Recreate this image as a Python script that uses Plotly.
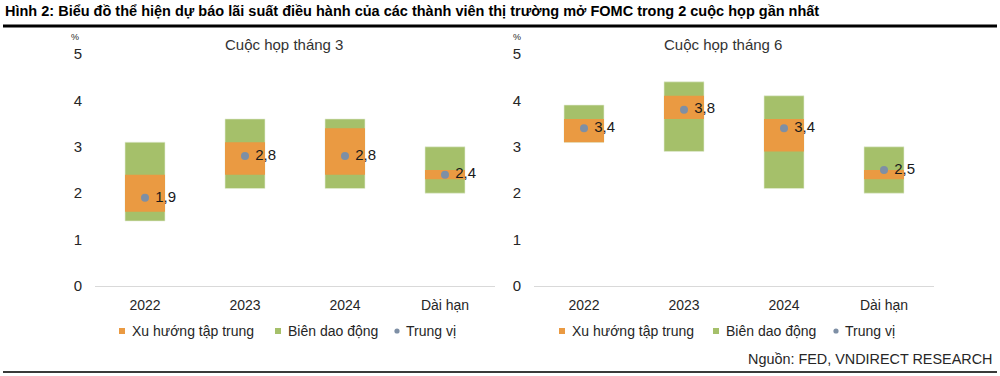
import plotly.graph_objects as go

# ---------------- data ----------------
categories = ["2022", "2023", "2024", "Dài hạn"]

mar_range_low = [1.4, 2.1, 2.1, 2.0]
mar_range_high = [3.1, 3.6, 3.6, 3.0]
mar_central_low = [1.6, 2.4, 2.4, 2.3]
mar_central_high = [2.4, 3.1, 3.4, 2.5]
mar_median = [1.9, 2.8, 2.8, 2.4]

jun_range_low = [3.1, 2.9, 2.1, 2.0]
jun_range_high = [3.9, 4.4, 4.1, 3.0]
jun_central_low = [3.1, 3.6, 2.9, 2.3]
jun_central_high = [3.6, 4.1, 3.6, 2.5]
jun_median = [3.4, 3.8, 3.4, 2.5]

panel_titles = ["Cuộc họp tháng 3", "Cuộc họp tháng 6"]
series_names = ["Xu hướng tập trung", "Biên dao động", "Trung vị"]
y_ticks = [0, 1, 2, 3, 4, 5]

# ---------------- style ----------------
W, H = 1000, 376
FONT = "Liberation Sans, Arial, sans-serif"
GREEN = "#A5C06A"
ORANGE = "#EA9A42"
DOT = "#7E8FA5"
TXT = "#262626"


def px(x):
    return x / W


def py(y):
    return 1 - y / H


def fmt(v):
    return "\u00a0" + f"{v:.1f}".replace(".", ",")


fig = go.Figure()

panels = [
    (mar_range_low, mar_range_high, mar_central_low, mar_central_high, mar_median),
    (jun_range_low, jun_range_high, jun_central_low, jun_central_high, jun_median),
]
x_domains = [(95, 495), (534, 934)]

for i, (rl, rh, cl, ch, md) in enumerate(panels):
    xa = "x" if i == 0 else "x2"
    ya = "y" if i == 0 else "y2"
    fig.add_trace(go.Bar(
        x=categories, y=[h - l for l, h in zip(rl, rh)], base=rl,
        width=0.4, marker=dict(color=GREEN, line=dict(color="#E6EEDA", width=0.6)),
        name=series_names[1], showlegend=False, xaxis=xa, yaxis=ya,
        hoverinfo="skip"))
    fig.add_trace(go.Bar(
        x=categories, y=[h - l for l, h in zip(cl, ch)], base=cl,
        width=0.4, marker=dict(color=ORANGE, line=dict(width=0)),
        name=series_names[0], showlegend=False, xaxis=xa, yaxis=ya,
        hoverinfo="skip"))
    fig.add_trace(go.Scatter(
        x=categories, y=md, mode="markers+text",
        marker=dict(color=DOT, size=8),
        text=[fmt(v) for v in md], textposition="middle right",
        textfont=dict(family=FONT, size=15, color="#1a1a1a"),
        name=series_names[2], showlegend=False, xaxis=xa, yaxis=ya,
        cliponaxis=False))

axis_common_x = dict(
    type="category", range=[-0.5, 3.5], showline=True, linecolor="#D9D9D9",
    linewidth=1, showgrid=False, zeroline=False, ticks="",
    tickfont=dict(family=FONT, size=14, color=TXT), ticklabelstandoff=6,
    fixedrange=True)
axis_common_y = dict(
    range=[0, 5], tickvals=y_ticks, showline=False, showgrid=False,
    zeroline=False, ticks="", tickfont=dict(family=FONT, size=15, color=TXT),
    ticklabelstandoff=12, domain=[py(286), py(54)], fixedrange=True)

fig.update_layout(
    autosize=True,
    margin=dict(l=0, r=0, t=0, b=0, autoexpand=False),
    paper_bgcolor="white", plot_bgcolor="white",
    barmode="overlay",
    font=dict(family=FONT, color=TXT),
    xaxis=dict(domain=[px(x_domains[0][0]), px(x_domains[0][1])], anchor="y", **axis_common_x),
    yaxis=dict(anchor="x", **axis_common_y),
    xaxis2=dict(domain=[px(x_domains[1][0]), px(x_domains[1][1])], anchor="y2", **axis_common_x),
    yaxis2=dict(anchor="x2", **axis_common_y),
    showlegend=False,
)

annotations = [
    dict(text="<b>Hình 2: Biểu đồ thể hiện dự báo lãi suất điều hành của các thành viên thị trường mở FOMC trong 2 cuộc họp gần nhất</b>",
         x=px(3), y=py(11), xanchor="left", yanchor="middle",
         font=dict(family=FONT, size=14.5, color="#000000")),
    dict(text=panel_titles[0], x=px(284), y=py(45), xanchor="center", yanchor="middle",
         font=dict(family=FONT, size=15, color="#333333")),
    dict(text=panel_titles[1], x=px(723), y=py(45), xanchor="center", yanchor="middle",
         font=dict(family=FONT, size=15, color="#333333")),
    dict(text="%", x=px(75), y=py(37), xanchor="center", yanchor="middle",
         font=dict(family=FONT, size=9, color=TXT)),
    dict(text="%", x=px(517), y=py(37), xanchor="center", yanchor="middle",
         font=dict(family=FONT, size=9, color=TXT)),
    dict(text="Nguồn: FED, VNDIRECT RESEARCH", x=px(994), y=py(359), xanchor="right",
         yanchor="middle", font=dict(family=FONT, size=14.4, color=TXT)),
]

shapes = [
    dict(type="line", x0=px(3), x1=px(997), y0=py(26), y1=py(26),
         line=dict(color="#000000", width=3)),
    dict(type="line", x0=px(3), x1=px(997), y0=py(372), y1=py(372),
         line=dict(color="#3a3a3a", width=2)),
]

# legend keys (one legend per panel)
legend_rows = [
    [(122, 130, ORANGE, "rect"), (278, 286, GREEN, "rect"), (397, 404, DOT, "circle")],
    [(562, 570, ORANGE, "rect"), (716, 724, GREEN, "rect"), (836, 843, DOT, "circle")],
]
LEG_Y = 331
for row in legend_rows:
    for (sx, tx, col, kind), name in zip(row, series_names):
        r = 3 if kind == "rect" else 2.6
        shapes.append(dict(type=kind, x0=px(sx - r), x1=px(sx + r),
                           y0=py(LEG_Y + r), y1=py(LEG_Y - r),
                           fillcolor=col, line=dict(width=0)))
        annotations.append(dict(text=name, x=px(tx), y=py(LEG_Y), xanchor="left",
                                yanchor="middle",
                                font=dict(family=FONT, size=14, color=TXT)))

for a in annotations:
    a.update(xref="paper", yref="paper", showarrow=False)
for s in shapes:
    s.update(xref="paper", yref="paper")
fig.update_layout(annotations=annotations, shapes=shapes)

fig.write_html("out.html", config={"displayModeBar": False, "responsive": True},
               default_width="1000px",
               default_height="376px;position:absolute;left:0;top:0",
               post_script="document.body.style.margin='0';document.body.style.overflow='hidden';")
